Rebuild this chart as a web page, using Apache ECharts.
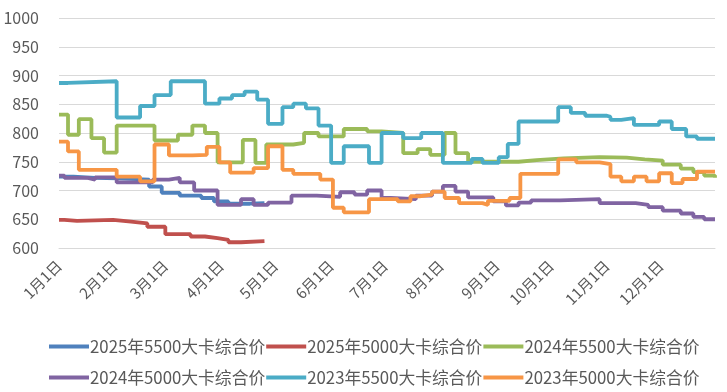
<!DOCTYPE html>
<html><head><meta charset="utf-8">
<script src="https://cdn.jsdelivr.net/npm/echarts@6/dist/echarts.min.js"></script>
<style>html,body{margin:0;padding:0;background:#fff}#c{width:727px;height:392px}</style>
</head><body><div id="c"></div>
<script>
// x = day of year (0 = 1月1日); each point [day, value] holds until the next point
const monthStartDays = [0, 31, 59, 90, 120, 151, 181, 212, 243, 273, 304, 334];
const monthLabels = ['1月1日','2月1日','3月1日','4月1日','5月1日','6月1日','7月1日','8月1日','9月1日','10月1日','11月1日','12月1日'];
const yTicks = [600, 650, 700, 750, 800, 850, 900, 950, 1000];
const seriesNames = ['2025年5500大卡综合价','2025年5000大卡综合价','2024年5500大卡综合价','2024年5000大卡综合价','2023年5500大卡综合价','2023年5000大卡综合价'];

const s2025_5500 = [[0,724],[8,722],[20,721],[33,719],[50,707],[57,696],[67,691],[79,687],[86,681],[94,677],[106,678],[114,678]];
const s2025_5000 = [[0,649],[3,647],[10,649],[30,646],[40,643],[49,637],[59,624],[73,620],[81,617],[88,614],[94,610],[101,612],[114,611]];
const s2024_5500 = [[0,832],[5,797],[11,824],[18,791],[25,766],[32,813],[53,787],[66,797],[74,813],[81,800],[88,749],[102,788],[109,748],[115,780],[130,783],[136,800],[144,794],[158,807],[171,803],[179,800],[191,765],[199,772],[206,762],[214,800],[220,765],[227,750],[245,750],[255,753],[265,756],[280,758],[300,757],[315,754],[325,752],[335,745],[345,738],[352,732],[358,726],[364,722]];
const s2024_5000 = [[0,726],[3,722],[16,719],[20,723],[32,714],[52,719],[61,722],[67,714],[75,700],[88,675],[101,685],[108,675],[116,679],[129,691],[143,689],[156,697],[164,693],[171,700],[179,687],[184,685],[198,691],[207,698],[213,708],[220,698],[227,688],[241,681],[248,674],[255,679],[262,683],[278,685],[300,678],[320,675],[327,671],[335,665],[345,660],[352,654],[358,650],[364,650]];
const s2023_5500 = [[0,887],[5,890],[32,827],[45,847],[53,866],[62,890],[81,851],[89,860],[96,866],[103,872],[110,858],[116,816],[124,845],[130,851],[137,843],[144,813],[151,748],[158,777],[172,748],[179,800],[191,791],[201,800],[213,748],[229,755],[235,748],[244,758],[249,781],[255,820],[277,845],[284,835],[292,830],[304,828],[306,823],[312,826],[319,814],[333,820],[340,807],[348,794],[354,790],[364,790]];
const s2023_5000 = [[0,785],[5,768],[11,736],[32,724],[45,716],[53,780],[61,761],[74,762],[82,776],[89,749],[95,731],[108,739],[116,777],[124,736],[130,729],[145,719],[152,670],[158,662],[172,685],[188,681],[195,690],[200,693],[207,698],[214,687],[222,678],[235,675],[238,682],[250,687],[256,729],[277,754],[287,749],[300,746],[306,724],[312,716],[319,724],[326,716],[333,730],[340,713],[346,720],[354,733],[364,733]];

const colors = ['#4F81BD','#C0504D','#9BBB59','#8064A2','#4BACC6','#F79646'];
const allData = [s2025_5500, s2025_5000, s2024_5500, s2024_5000, s2023_5500, s2023_5000];

const chart = echarts.init(document.getElementById('c'), null, {renderer:'canvas'});
const font = '"Noto Sans CJK SC", "Noto Sans", sans-serif';
const legendCommon = {
  left: 49, padding: 0, icon: 'rect', itemWidth: 40, itemHeight: 4, itemGap: 1,
  textStyle: {color:'#595959', fontSize: 16.8, fontFamily: font, padding:[0,0,0,-4]}
};
chart.setOption({
  animation: false,
  color: colors,
  grid: {left: 59, right: 12, top: 18, bottom: 144},
  legend: [
    Object.assign({top: 338, data: seriesNames.slice(0,3)}, legendCommon),
    Object.assign({top: 369, data: seriesNames.slice(3)}, legendCommon)
  ],
  xAxis: {
    type: 'value', min: 0, max: 364,
    splitLine: {show:false},
    axisTick: {show:false},
    axisLine: {show:true, lineStyle:{color:'#D9D9D9'}},
    axisLabel: {
      customValues: monthStartDays,
      rotate: 45, margin: 15, color:'#595959', fontSize: 15, fontFamily: font,
      formatter: v => monthLabels[monthStartDays.indexOf(v)] || ''
    }
  },
  yAxis: {
    type: 'value', min: yTicks[0], max: yTicks[yTicks.length-1], interval: 50,
    axisLine: {show:false}, axisTick: {show:false},
    splitLine: {lineStyle:{color:'#D9D9D9', width:1}},
    axisLabel: {color:'#595959', fontSize: 16, margin: 20, fontFamily: font, formatter: v => String(v)}
  },
  series: seriesNames.map((n,i) => ({
    name: n, type: 'line', step: 'end', data: allData[i],
    showSymbol: false, symbol: 'none',
    lineStyle: {width: 3.8, color: colors[i]}, itemStyle: {color: colors[i]}
  }))
});
</script></body></html>
